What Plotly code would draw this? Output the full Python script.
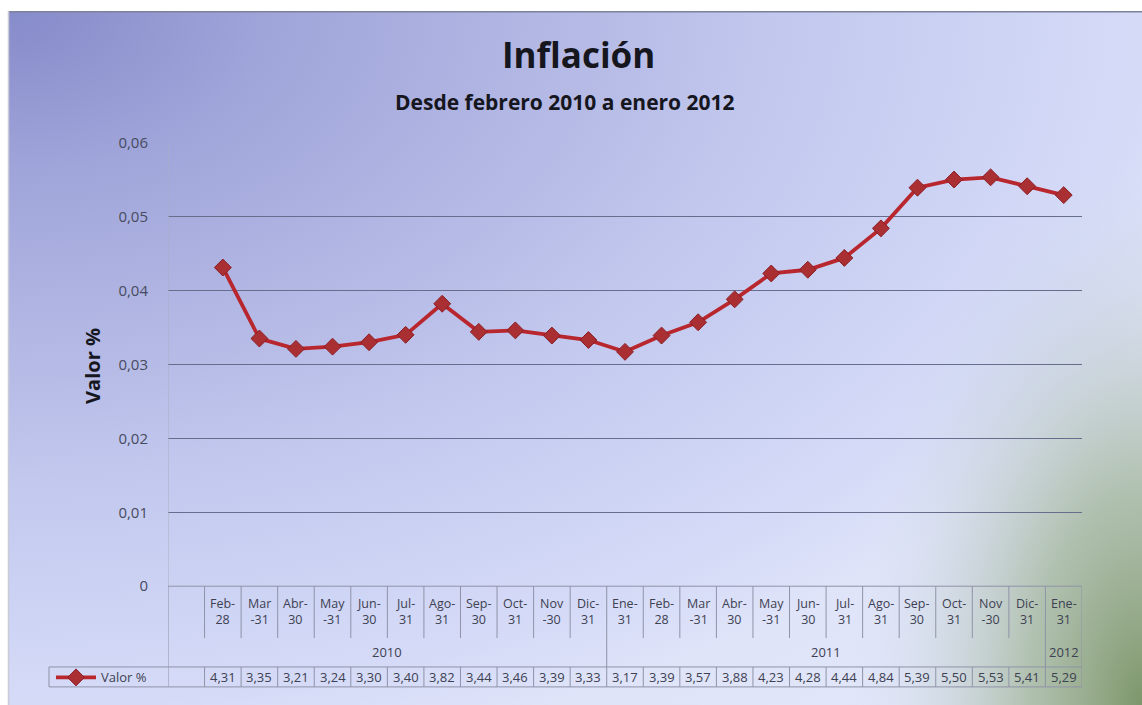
import plotly.graph_objects as go

# ---------------- data ----------------
titulo = "Inflación"
subtitulo = "Desde febrero 2010 a enero 2012"
serie_nombre = "Valor %"
eje_y_titulo = "Valor %"

meses = ["Feb-<br>28", "Mar<br>-31", "Abr-<br>30", "May<br>-31", "Jun-<br>30", "Jul-<br>31",
         "Ago-<br>31", "Sep-<br>30", "Oct-<br>31", "Nov<br>-30", "Dic-<br>31",
         "Ene-<br>31", "Feb-<br>28", "Mar<br>-31", "Abr-<br>30", "May<br>-31", "Jun-<br>30",
         "Jul-<br>31", "Ago-<br>31", "Sep-<br>30", "Oct-<br>31", "Nov<br>-30", "Dic-<br>31",
         "Ene-<br>31"]
anio_de_mes = ["2010"] * 11 + ["2011"] * 12 + ["2012"]
inflacion = [0.0431, 0.0335, 0.0321, 0.0324, 0.0330, 0.0340, 0.0382, 0.0344, 0.0346, 0.0339,
             0.0333, 0.0317, 0.0339, 0.0357, 0.0388, 0.0423, 0.0428, 0.0444, 0.0484, 0.0539,
             0.0550, 0.0553, 0.0541, 0.0529]
tabla_valores = ["4,31", "3,35", "3,21", "3,24", "3,30", "3,40", "3,82", "3,44", "3,46", "3,39",
                 "3,33", "3,17", "3,39", "3,57", "3,88", "4,23", "4,28", "4,44", "4,84", "5,39",
                 "5,50", "5,53", "5,41", "5,29"]
y_ticks = [0, 0.01, 0.02, 0.03, 0.04, 0.05, 0.06]
y_tick_labels = ["0", "0,01", "0,02", "0,03", "0,04", "0,05", "0,06"]

# categories: a blank first category (belongs to the 2010 group), then the months
categorias = [""] + meses
anio_categoria = ["2010"] + anio_de_mes
x_meses = list(range(1, len(categorias)))

# ---------------- layout helpers ----------------
W, H = 1142, 714
PAGE_Y0, PAGE_SY = 9.0, 0.975   # observed vertical placement of the figure in the photo
FONT = "'Open Sans', Lato, sans-serif"
TXT = "#3e4152"
LINEA_TABLA = "#8f93a8"


def px(v):
    return v / W


def py(v):
    # v is a target row in the photographed picture; convert to a paper fraction
    return 1 - ((v - PAGE_Y0) / PAGE_SY) / H


PLOT_L, PLOT_R, PLOT_T, PLOT_B = 168, 1082, 141, 586
ROW_MES_END = 638
ROW_VAL_T, ROW_VAL_B = 667, 687
LEG_L = 49

fig = go.Figure()

# ---------------- background (auxiliary full-size axes) ----------------
fig.add_trace(go.Scatter(
    x=[-1.5, 1.5, 1.5, -1.5, -1.5], y=[-0.5, -0.5, 2.5, 2.5, -0.5], xaxis="x", yaxis="y",
    mode="none", fill="toself",
    fillgradient=dict(type="radial",
                      colorscale=[[0, "#868bca"], [0.17, "#a2a7db"], [0.33, "#b4b9e5"],
                                  [0.47, "#c4caef"], [0.667, "#d5dbf7"], [0.74, "#dfe4f9"],
                                  [1, "#e4e9f9"]]),
    hoverinfo="skip", showlegend=False))
fig.add_trace(go.Scatter(
    x=[0.74, 1.26, 1.26, 0.74, 0.74], y=[-0.8, -0.8, 0.8, 0.8, -0.8],
    xaxis="x", yaxis="y", mode="none", fill="toself",
    fillgradient=dict(type="radial",
                      colorscale=[[0, "rgba(122,148,102,0.97)"], [0.4, "rgba(150,172,135,0.62)"],
                                  [0.75, "rgba(185,200,195,0.22)"], [1, "rgba(215,225,240,0)"]]),
    hoverinfo="skip", showlegend=False))

# ---------------- data series ----------------
fig.add_trace(go.Scatter(
    x=x_meses, y=inflacion, xaxis="x2", yaxis="y2", name=serie_nombre,
    mode="lines+markers",
    line=dict(color="#b8262e", width=3.8),
    marker=dict(symbol="diamond", size=13, color="#a92f33", line=dict(color="#8c1e24", width=1)),
    showlegend=True, cliponaxis=False))

shapes = []
annotations = []

# vertical boundaries of the category table
n = len(categorias)
for k in range(n + 1):
    xb = k - 0.5
    separador = k == 0 or k == n or anio_categoria[k] != anio_categoria[k - 1]
    if separador:
        shapes.append(dict(type="line", xref="x2", yref="paper", x0=xb, x1=xb,
                           y0=py(PLOT_B), y1=py(ROW_VAL_B), line=dict(color=LINEA_TABLA, width=1)))
    else:
        shapes.append(dict(type="line", xref="x2", yref="paper", x0=xb, x1=xb,
                           y0=py(PLOT_B), y1=py(ROW_MES_END), line=dict(color=LINEA_TABLA, width=1)))
        shapes.append(dict(type="line", xref="x2", yref="paper", x0=xb, x1=xb,
                           y0=py(ROW_VAL_T), y1=py(ROW_VAL_B), line=dict(color=LINEA_TABLA, width=1)))

# horizontal lines
shapes.append(dict(type="line", xref="x2", yref="paper", x0=-0.5, x1=n - 0.5,
                   y0=py(PLOT_B), y1=py(PLOT_B), line=dict(color=LINEA_TABLA, width=1)))
for yy in (ROW_VAL_T, ROW_VAL_B):
    shapes.append(dict(type="line", xref="paper", yref="paper", x0=px(LEG_L), x1=px(PLOT_L),
                       y0=py(yy), y1=py(yy), line=dict(color=LINEA_TABLA, width=1)))
    shapes.append(dict(type="line", xref="x2", yref="paper", x0=-0.5, x1=n - 0.5,
                       y0=py(yy), y1=py(yy), line=dict(color=LINEA_TABLA, width=1)))
shapes.append(dict(type="line", xref="paper", yref="paper", x0=px(LEG_L), x1=px(LEG_L),
                   y0=py(ROW_VAL_T), y1=py(ROW_VAL_B), line=dict(color=LINEA_TABLA, width=1)))
# plot area left border
shapes.append(dict(type="line", xref="x2", yref="paper", x0=-0.5, x1=-0.5,
                   y0=py(PLOT_T), y1=py(PLOT_B), line=dict(color="#a9adc4", width=1)))
# chart frame (top and left edges)
shapes.append(dict(type="line", xref="paper", yref="paper", x0=px(8), x1=1.0,
                   y0=1 - 0.8 / H, y1=1 - 0.8 / H, line=dict(color="#7d8199", width=1.5)))
shapes.append(dict(type="line", xref="paper", yref="paper", x0=px(8.5), x1=px(8.5),
                   y0=0.0, y1=1.0, line=dict(color="#c9cbd8", width=1.5)))

# month labels
for xi, lab in zip(x_meses, meses):
    annotations.append(dict(x=xi, y=py(611), xref="x2", yref="paper", text=lab, showarrow=False,
                            font=dict(family=FONT, size=12.5, color=TXT), align="center",
                            xanchor="center", yanchor="middle"))

# year group labels
grupos = []
for i, a in enumerate(anio_categoria):
    if grupos and grupos[-1][0] == a:
        grupos[-1][2] = i
    else:
        grupos.append([a, i, i])
for a, i0, i1 in grupos:
    annotations.append(dict(x=(i0 + i1) / 2, y=py(652), xref="x2", yref="paper", text=a,
                            showarrow=False, font=dict(family=FONT, size=13, color=TXT),
                            xanchor="center", yanchor="middle"))

# values row
for xi, v in zip(x_meses, tabla_valores):
    annotations.append(dict(x=xi, y=py(677.5), xref="x2", yref="paper", text=v, showarrow=False,
                            font=dict(family=FONT, size=13, color=TXT),
                            xanchor="center", yanchor="middle"))

# titles
annotations.append(dict(x=px(578), y=py(53), xref="paper", yref="paper", text="<b>%s</b>" % titulo,
                        showarrow=False, font=dict(family=FONT, size=35, color="#16161e"),
                        xanchor="center", yanchor="middle"))
annotations.append(dict(x=px(565), y=py(100), xref="paper", yref="paper",
                        text="<b>%s</b>" % subtitulo, showarrow=False,
                        font=dict(family=FONT, size=21, color="#16161e"),
                        xanchor="center", yanchor="middle"))
annotations.append(dict(x=px(93), y=py(365), xref="paper", yref="paper",
                        text="<b>%s</b>" % eje_y_titulo, showarrow=False, textangle=-90,
                        font=dict(family=FONT, size=20, color="#16161e"),
                        xanchor="center", yanchor="middle"))

fig.update_layout(
    width=W, height=H,
    margin=dict(l=0, r=0, t=0, b=0),
    paper_bgcolor="white",
    plot_bgcolor="rgba(0,0,0,0)",
    separators=",.",
    font=dict(family=FONT, color=TXT),
    xaxis=dict(domain=[px(8), 1.0], range=[0, 1], visible=False, fixedrange=True),
    yaxis=dict(domain=[0.0, 1.0], range=[0, 1], visible=False, fixedrange=True),
    xaxis2=dict(domain=[px(PLOT_L), px(PLOT_R)], range=[-0.5, n - 0.5], anchor="y2",
                showgrid=False, zeroline=False, showticklabels=False, ticks="", showline=False),
    yaxis2=dict(domain=[py(PLOT_B), py(PLOT_T)], range=[0, 0.06], anchor="x2",
                tickvals=y_ticks, ticktext=y_tick_labels, showgrid=True, gridcolor="#676d8c",
                gridwidth=1, zeroline=False, showline=False, ticks="outside", ticklen=16,
                tickcolor="rgba(0,0,0,0)", tickfont=dict(family=FONT, size=15, color="#474b60")),
    showlegend=True,
    legend=dict(x=px(LEG_L + 2), y=py(677.5), xanchor="left", yanchor="middle",
                bgcolor="rgba(0,0,0,0)", borderwidth=0, font=dict(family=FONT, size=13, color=TXT),
                itemwidth=40, tracegroupgap=0),
    shapes=shapes,
    annotations=annotations,
    hovermode=False,
)

fig.write_html("out.html")
